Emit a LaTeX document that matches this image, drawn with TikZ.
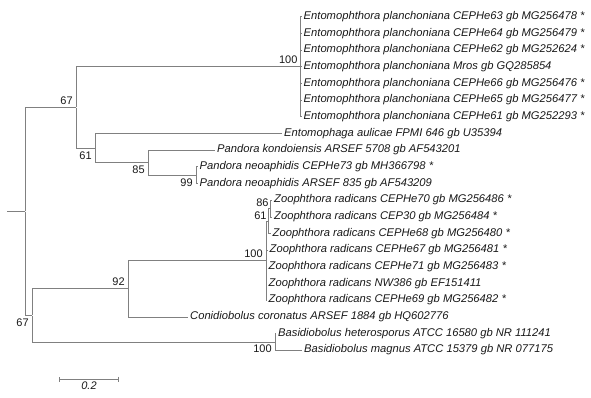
\documentclass[tikz,border=0pt]{standalone}
\usepackage{fontspec}
\setmainfont{Liberation Sans}
\usetikzlibrary{arrows.meta,positioning,calc}
\definecolor{branchgray}{RGB}{128,128,128}
\definecolor{inkblack}{RGB}{25,25,25}
\tikzset{
  tree/.style={x=1pt,y=-1pt,text=inkblack,label distance=2pt},
  branch/.style={draw=branchgray,line width=1pt},
  fork/.style={inner sep=0pt,minimum size=0pt},
  taxon/.style={anchor=west,inner sep=2pt,text height=7.5pt,text depth=2.5pt,
    font=\fontsize{11.2}{13}\selectfont\itshape},
  support/.style={inner sep=1.5pt,font=\fontsize{11}{13}\selectfont},
  scalebar/.style={branch,{Bar[width=5pt]}-{Bar[width=5pt]}}
}

\begin{document}
\begin{tikzpicture}[tree]
  \useasboundingbox (0,0) rectangle (591,398);
  % forks with bootstrap values
  \coordinate (stub) at (7,211.5);
  \node[fork] (root) at (25,211.5) {};
  \node[fork,label={[support]above left:67}] (nA) at (76,107.6) {};
  \node[fork,label={[support]above left:100}] (nEnt) at (300.7,67) {};
  \node[fork,label={[support]below left:61}] (nB) at (95,148.3) {};
  \node[fork,label={[support]below left:85}] (nC) at (148,162.8) {};
  \node[fork,label={[support]below left:99}] (nD) at (196,175.3) {};
  \node[fork,label={[support]below left:67}] (nE) at (32,315.5) {};
  \node[fork,label={[support]above left:92}] (nF) at (128,288.9) {};
  \node[fork,label={[support]above left:100}] (nG) at (266,260.8) {};
  \node[fork,label={[support,label distance=0pt]above left:61}] (nH) at (268.5,221.2) {};
  \node[fork,label={[support,label distance=0pt]above left:86}] (nI) at (270.5,208.7) {};
  \node[fork,label={[support]below left:100}] (nJ) at (275,342) {};
  % taxa
  \node[taxon] (t1) at (301.5,17.0) {Entomophthora planchoniana CEPHe63 gb MG256478 *};
  \node[taxon] (t2) at (301.5,33.7) {Entomophthora planchoniana CEPHe64 gb MG256479 *};
  \node[taxon] (t3) at (301.5,50.3) {Entomophthora planchoniana CEPHe62 gb MG252624 *};
  \node[taxon] (t4) at (301.5,67.0) {Entomophthora planchoniana Mros gb GQ285854};
  \node[taxon] (t5) at (301.5,83.7) {Entomophthora planchoniana CEPHe66 gb MG256476 *};
  \node[taxon] (t6) at (301.5,100.3) {Entomophthora planchoniana CEPHe65 gb MG256477 *};
  \node[taxon] (t7) at (301.5,117.0) {Entomophthora planchoniana CEPHe61 gb MG252293 *};
  \node[taxon] (t8) at (282,133.7) {Entomophaga aulicae FPMI 646 gb U35394};
  \node[taxon] (t9) at (215,150.3) {Pandora kondoiensis ARSEF 5708 gb AF543201};
  \node[taxon] (t10) at (197.5,167.0) {Pandora neoaphidis CEPHe73 gb MH366798 *};
  \node[taxon] (t11) at (197.5,183.7) {Pandora neoaphidis ARSEF 835 gb AF543209};
  \node[taxon] (t12) at (272,200.3) {Zoophthora radicans CEPHe70 gb MG256486 *};
  \node[taxon] (t13) at (272,217.0) {Zoophthora radicans CEP30 gb MG256484 *};
  \node[taxon] (t14) at (270.5,233.7) {Zoophthora radicans CEPHe68 gb MG256480 *};
  \node[taxon] (t15) at (267.5,250.3) {Zoophthora radicans CEPHe67 gb MG256481 *};
  \node[taxon] (t16) at (266.5,267.0) {Zoophthora radicans CEPHe71 gb MG256483 *};
  \node[taxon] (t17) at (266.5,283.7) {Zoophthora radicans NW386 gb EF151411};
  \node[taxon] (t18) at (266.5,300.3) {Zoophthora radicans CEPHe69 gb MG256482 *};
  \node[taxon] (t19) at (188,317.0) {Conidiobolus coronatus ARSEF 1884 gb HQ602776};
  \node[taxon] (t20) at (276,333.7) {Basidiobolus heterosporus ATCC 16580 gb NR 111241};
  \node[taxon] (t21) at (302,350.3) {Basidiobolus magnus ATCC 15379 gb NR 077175};
  % branches
  \draw[branch] (stub) -- (root);
  \draw[branch] (root) |- (nA);
  \draw[branch] (root) |- (nE);
  \draw[branch] (nA) |- (nEnt);
  \draw[branch] (nA) |- (nB);
  \foreach \t in {t1,t2,t3,t4,t5,t6,t7}
    \draw[branch] (nEnt) |- (\t);
  \draw[branch] (nB) |- (t8);
  \draw[branch] (nB) |- (nC);
  \draw[branch] (nC) |- (t9);
  \draw[branch] (nC) |- (nD);
  \draw[branch] (nD) |- (t10);
  \draw[branch] (nD) |- (t11);
  \draw[branch] (nE) |- (nF);
  \draw[branch] (nE) |- (nJ);
  \draw[branch] (nF) |- (nG);
  \draw[branch] (nF) |- (t19);
  \draw[branch] (nG) |- (nH);
  \foreach \t in {t15,t16,t17,t18}
    \draw[branch] (nG) |- (\t);
  \draw[branch] (nH) |- (nI);
  \draw[branch] (nH) |- (t14);
  \draw[branch] (nI) |- (t12);
  \draw[branch] (nI) |- (t13);
  \draw[branch] (nJ) |- (t20);
  \draw[branch] (nJ) |- (t21);
  % scale
  \coordinate (sb1) at (59,379);
  \coordinate (sb2) at (119,379);
  \coordinate (sbmid) at ($(sb1)!0.5!(sb2)$);
  \draw[scalebar] (sb1) -- (sb2);
  \node[support,font=\fontsize{11}{13}\selectfont\itshape,below=1pt of sbmid] (sblabel) {0.2};
\end{tikzpicture}
\end{document}
